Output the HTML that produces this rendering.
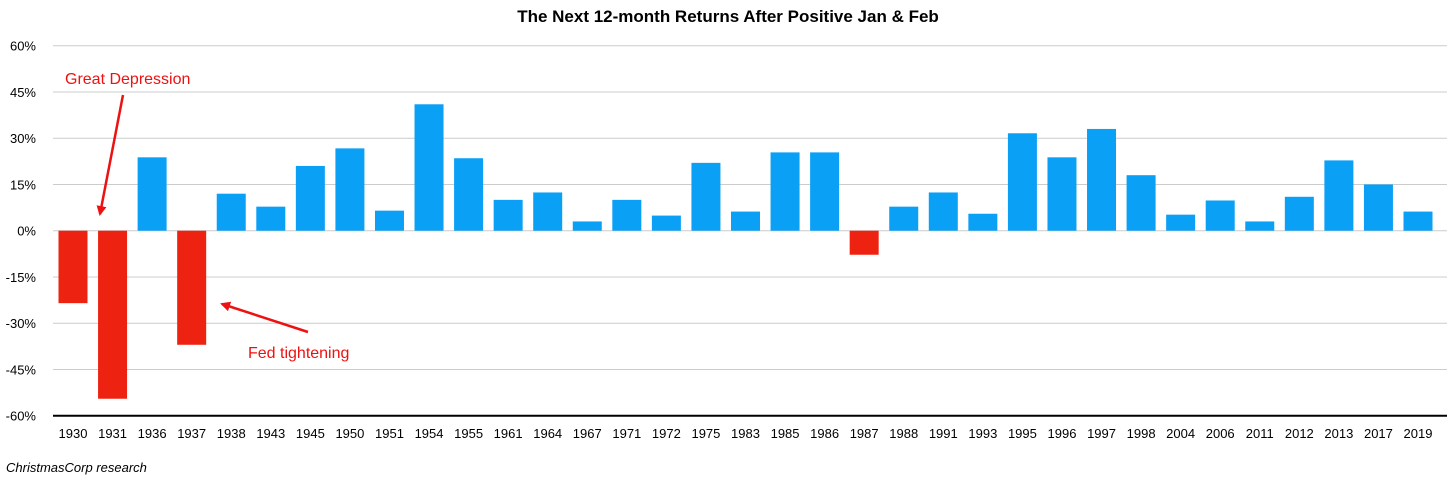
<!DOCTYPE html>
<html><head><meta charset="utf-8">
<style>
html,body{margin:0;padding:0;background:#fff;}
svg text{font-family:"Liberation Sans",sans-serif;}
</style></head>
<body>
<svg id="chart" width="1456" height="483" xmlns="http://www.w3.org/2000/svg">
<text x="728" y="22" text-anchor="middle" font-size="17" font-weight="bold">The Next 12-month Returns After Positive Jan &amp; Feb</text>
<g id="grid"></g>
<g id="bars"></g>
<g id="xlabels"></g>
<text x="6" y="472" font-size="13" font-style="italic">ChristmasCorp research</text>
<defs><marker id="ah" markerWidth="10" markerHeight="10" refX="8" refY="5" orient="auto" markerUnits="userSpaceOnUse"><path d="M0,0 L10,5 L0,10 z" fill="#ee1111"/></marker></defs>
<text x="65" y="84" font-size="16" fill="#ee1111">Great Depression</text>
<line x1="123" y1="95" x2="100" y2="214" stroke="#ee1111" stroke-width="2.5" marker-end="url(#ah)"/>
<text x="248" y="358" font-size="16" fill="#ee1111">Fed tightening</text>
<line x1="308" y1="332" x2="222" y2="304" stroke="#ee1111" stroke-width="2.5" marker-end="url(#ah)"/>
</svg>
<script>
const categories=["1930","1931","1936","1937","1938","1943","1945","1950","1951","1954","1955","1961","1964","1967","1971","1972","1975","1983","1985","1986","1987","1988","1991","1993","1995","1996","1997","1998","2004","2006","2011","2012","2013","2017","2019"];
const values=[-23.5,-54.5,23.8,-37,12,7.8,21,26.7,6.5,41,23.5,10,12.4,3,10,4.9,22,6.2,25.4,25.4,-7.8,7.8,12.4,5.5,31.6,23.8,33,18,5.2,9.8,3,11,22.8,15,6.2];
const ticks=[60,45,30,15,0,-15,-30,-45,-60];
const tickLabels=["60%","45%","30%","15%","0%","-15%","-30%","-45%","-60%"];
const NS="http://www.w3.org/2000/svg";
const y0=230.7, y60=45.7, yM60=415.7;
function y(v){return y0-(v/60)*(y0-y60);}
const xL=53,xR=1447,step=(1433-58)/ (categories.length) ;
function x(i){return 73+i*(1418-73)/(categories.length-1);}
const grid=document.getElementById('grid');
ticks.forEach((t,i)=>{
  if(t!==-60){const l=document.createElementNS(NS,'line');
  
  
  l.setAttribute('x1',xL);l.setAttribute('x2',xR);l.setAttribute('y1',y(t));l.setAttribute('y2',y(t));
  l.setAttribute('stroke','#cccccc');l.setAttribute('stroke-width','1');grid.appendChild(l);}
  const tx=document.createElementNS(NS,'text');
  
  
  tx.setAttribute('x',36);tx.setAttribute('y',y(t)+5);tx.setAttribute('text-anchor','end');tx.setAttribute('font-size','13');
  tx.textContent=tickLabels[i];grid.appendChild(tx);
});
const bars=document.getElementById('bars'),xl=document.getElementById('xlabels');
categories.forEach((c,i)=>{
  const v=values[i];const r=document.createElementNS(NS,'rect');
  
  
  const w=29;r.setAttribute('x',x(i)-w/2);r.setAttribute('width',w);
  r.setAttribute('y',Math.min(y(v),y0));r.setAttribute('height',Math.abs(y(v)-y0));
  r.setAttribute('fill',v<0?'#ee2211':'#0aa0f5');bars.appendChild(r);
  const t=document.createElementNS(NS,'text');
  
  
  t.setAttribute('x',x(i));t.setAttribute('y',438);t.setAttribute('text-anchor','middle');t.setAttribute('font-size','13');
  t.textContent=c;xl.appendChild(t);
});
const ax=document.createElementNS(NS,'line');


ax.setAttribute('x1',xL);ax.setAttribute('x2',xR);ax.setAttribute('y1',yM60);ax.setAttribute('y2',yM60);
ax.setAttribute('stroke','#000');ax.setAttribute('stroke-width','2');grid.appendChild(ax);
</script>
</body></html>
